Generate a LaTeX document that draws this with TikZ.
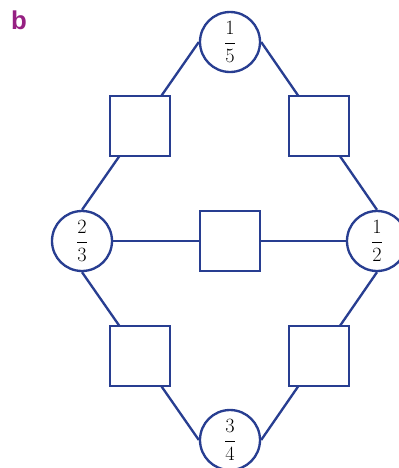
\documentclass[tikz,border=0pt]{standalone}
\usepackage{amsmath}
\usepackage{fontspec}
\newfontfamily\labelfont{Liberation Sans}
\definecolor{lineblue}{RGB}{40,62,145}
\definecolor{labelpurple}{RGB}{150,32,130}
\tikzset{
  frac/.style={circle,draw=lineblue,line width=2pt,fill=white,minimum size=1.8cm,inner sep=0pt,font=\LARGE},
  box/.style={rectangle,draw=lineblue,line width=2pt,fill=white,minimum size=1.8cm,inner sep=0pt},
  link/.style={draw=lineblue,line width=2pt}
}
\begin{document}
\begin{tikzpicture}[x=0.03cm,y=-0.03cm]
            \useasboundingbox (0,0) rectangle (399,468);
            \node[frac] (T) at (230,42) {$\dfrac{1}{5}$};
            \node[frac] (L) at (82,241) {$\dfrac{2}{3}$};
            \node[frac] (R) at (377,241) {$\dfrac{1}{2}$};
            \node[frac] (B) at (230,440) {$\dfrac{3}{4}$};
            \draw[link] (T.west) -- (L.north);
            \draw[link] (T.east) -- (R.north);
            \draw[link] (L.south) -- (B.west);
            \draw[link] (R.south) -- (B.east);
            \draw[link] (L.east) -- (R.west);
            \node[box] (TL) at (140,126) {};
            \node[box] (TR) at (319,126) {};
            \node[box] (C) at (230,241) {};
            \node[box] (BL) at (140,356) {};
            \node[box] (BR) at (319,356) {};
            \node[text=labelpurple,font=\labelfont\bfseries\fontsize{22}{22}\selectfont] (lbl) at (19,20) {b};
        \end{tikzpicture}
\end{document}
